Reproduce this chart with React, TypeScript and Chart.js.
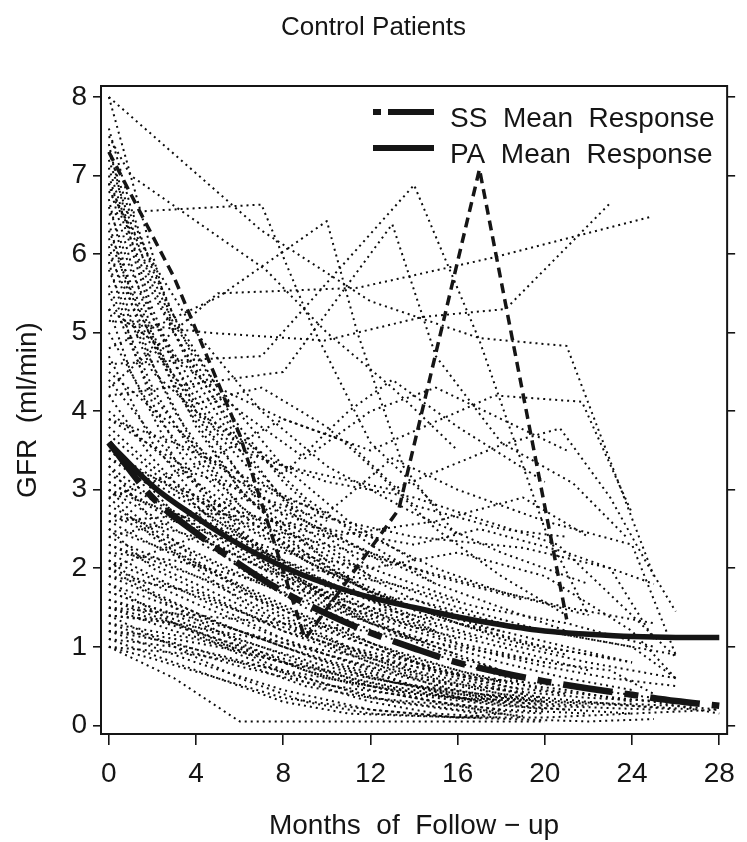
import React, { useEffect, useRef } from "react";
import { Chart, registerables } from "chart.js";

Chart.register(...registerables);

// ---------- text ----------
const titleText = "Control Patients";
const xTitle = "Months  of  Follow \u2212 up";
const yTitle = "GFR  (ml/min)";
const legendLabels = ["SS  Mean  Response", "PA  Mean  Response"];

// ---------- ticks ----------
const xTicks = [0, 4, 8, 12, 16, 20, 24, 28];
const yTicks = [0, 1, 2, 3, 4, 5, 6, 7, 8];

// ---------- mean curves ----------
const meanMonths = [0, 2, 4, 6, 8, 10, 12, 14, 16, 18, 20, 22, 24, 26, 28];
const ssMean = [3.6, 2.9, 2.45, 2.05, 1.7, 1.42, 1.18, 0.98, 0.8, 0.67, 0.56, 0.47, 0.39, 0.31, 0.25];
const paMean = [3.6, 3.05, 2.65, 2.3, 2.02, 1.8, 1.63, 1.5, 1.38, 1.28, 1.2, 1.16, 1.13, 1.12, 1.12];

// ---------- highlighted (dashed) patient ----------
const highlightMonths = [0, 3, 6, 9, 13.3, 17, 21];
const highlightValues = [7.3, 5.7, 3.7, 1.1, 2.75, 7.08, 1.35];

// ---------- individual patients [month, GFR] ----------
const upperPatients: number[][][] = [
  [[0, 8.0], [7, 6.3], [12, 5.4], [17, 4.93], [21, 4.83], [25, 1.9]],
  [[0, 8.0], [1, 7.0], [3, 5.0], [6, 3.6], [9, 2.5], [12, 1.9]],
  [[0, 6.5], [1.8, 6.55], [7, 6.63], [9.3, 5.1], [12, 3.6], [15, 2.8]],
  [[0, 7.5], [1, 7.0], [7.2, 5.8], [10, 5.0], [13, 4.3], [16, 3.5]],
  [[0, 4.8], [5, 5.45], [10, 6.42], [11.4, 5.0], [13.5, 3.3], [16, 2.4]],
  [[0, 4.6], [7, 4.7], [14, 6.88], [17, 4.9], [20, 2.5], [22, 1.4]],
  [[0, 4.2], [8, 4.5], [13, 6.38], [15, 4.7], [18, 3.6], [21.3, 3.08], [23.8, 2.38]],
  [[0, 5.15], [4.5, 5.0], [9.9, 4.9], [14.4, 5.2], [18.2, 5.3], [23, 6.65]],
  [[0, 4.3], [5, 5.5], [11.4, 5.57], [17.7, 5.96], [24.8, 6.47]],
  [[0, 6.9], [3, 5.1], [5, 4.3], [8, 3.9], [12, 3.5], [17.7, 4.2], [21.7, 4.12], [24, 2.7]],
  [[0, 6.2], [2, 4.9], [4, 4.0], [8, 3.3], [13, 3.0], [18, 3.57], [20.7, 3.78], [23, 2.9], [24.6, 2.1], [26, 1.45]],
  [[0, 5.8], [2, 4.5], [6, 3.5], [10, 3.1], [14, 2.9], [20.6, 2.3], [26, 0.87]],
  [[0, 3.9], [4, 3.2], [9, 2.7], [14, 2.4], [19, 2.26], [23, 2.0], [25, 1.1]],
  [[0, 3.4], [5, 2.8], [10, 2.4], [15, 2.6], [19, 2.9], [22, 2.4]],
  [[0, 7.2], [2, 5.6], [4, 4.4], [6, 3.5], [9, 2.6], [12, 2.0], [16, 1.6]],
  [[0, 6.7], [1, 5.5], [3, 4.3], [6, 3.0], [9, 2.2], [13, 1.5]],
  [[0, 7.0], [2, 5.2], [5, 3.8], [8, 3.2], [11, 4.0], [13, 4.4], [16, 3.8], [20, 3.1]],
  [[0, 6.0], [2, 4.8], [4, 4.1], [7, 4.3], [10, 3.8], [12, 3.3], [15, 2.5], [18, 1.9], [21, 1.4]],
  [[0, 5.5], [2, 4.2], [4, 3.5], [7, 2.9], [11, 2.3], [15, 1.9], [19, 1.6]],
  [[0, 7.4], [1, 6.2], [2, 5.3], [4, 4.0], [7, 2.8], [10, 2.1]],
  [[0, 6.8], [2, 5.9], [4, 5.0], [7, 4.0], [10, 3.3], [14, 2.7], [18, 2.2], [22, 1.8]],
  [[0, 5.3], [3, 4.7], [6, 4.0], [9, 3.4], [12, 4.0], [15, 4.3], [18, 3.9], [21, 3.5]],
  [[0, 4.5], [3, 3.8], [6, 3.1], [10, 2.7], [13, 3.4], [16, 3.0], [20, 2.6], [24, 2.3], [26, 0.9]],
  [[0, 6.3], [3, 4.3], [6, 3.2], [9, 2.4], [12, 1.9], [16, 1.5], [20, 1.2], [24, 1.0], [26, 0.6]],
  [[0, 2.9], [4, 3.3], [8, 3.9], [11, 3.6], [14, 2.8], [18, 2.5], [21, 2.4]],
];

const lowerPatients: number[][][] = [
  [[0, 1.0], [3, 0.6], [6, 0.05], [10, 0.05], [14, 0.05], [20, 0.05]],
  [[0, 1.1], [2, 0.9], [5, 0.6], [8, 0.35], [12, 0.2], [16, 0.1], [18, 0.15]],
  [[0, 1.2], [3, 1.05], [6, 0.8], [9, 0.5], [12, 0.35], [16, 0.25], [19, 0.1]],
  [[0, 1.3], [4, 1.1], [8, 0.8], [12, 0.55], [16, 0.35], [20, 0.22], [24, 0.15]],
  [[0, 1.4], [2, 1.35], [5, 1.1], [8, 0.85], [11, 0.6], [14, 0.42], [17, 0.3]],
  [[0, 1.5], [3, 1.3], [6, 1.0], [9, 0.7], [12, 0.5], [15, 0.35], [18, 0.25], [21, 0.2]],
  [[0, 1.6], [2, 1.45], [4, 1.25], [7, 1.0], [10, 0.75], [13, 0.55], [17, 0.4], [21, 0.3], [26, 0.25], [28, 0.2]],
  [[0, 1.7], [3, 1.4], [6, 1.1], [9, 0.8], [12, 0.5], [15, 0.3], [18, 0.2]],
  [[0, 1.8], [2, 1.6], [5, 1.3], [8, 1.0], [11, 0.75], [14, 0.5], [17, 0.35], [20, 0.25], [25, 0.2]],
  [[0, 1.9], [3, 1.55], [6, 1.2], [9, 0.9], [12, 0.6], [16, 0.4], [20, 0.3]],
  [[0, 2.0], [2, 1.8], [4, 1.55], [7, 1.2], [10, 0.9], [13, 0.65], [16, 0.45], [19, 0.3]],
  [[0, 2.1], [3, 1.75], [6, 1.45], [9, 1.15], [12, 0.85], [15, 0.6], [18, 0.4], [22, 0.3], [26, 0.2]],
  [[0, 2.2], [2, 1.9], [5, 1.5], [8, 1.1], [11, 0.8], [14, 0.5], [17, 0.3]],
  [[0, 2.3], [3, 2.0], [6, 1.7], [9, 1.35], [12, 1.0], [15, 0.7], [18, 0.5], [21, 0.4]],
  [[0, 2.4], [2, 2.15], [4, 1.9], [7, 1.5], [10, 1.1], [13, 0.75], [16, 0.5]],
  [[0, 2.5], [3, 2.2], [6, 1.8], [9, 1.4], [12, 1.05], [16, 0.7], [20, 0.45], [25, 0.3], [28, 0.15]],
  [[0, 2.6], [2, 2.3], [5, 1.9], [8, 1.5], [11, 1.15], [14, 0.85], [18, 0.55]],
  [[0, 2.7], [3, 2.3], [6, 1.9], [9, 1.6], [12, 1.3], [15, 1.05], [18, 0.8], [21, 0.6], [24, 0.45]],
  [[0, 2.8], [2, 2.5], [4, 2.2], [7, 1.8], [10, 1.45], [13, 1.1], [16, 0.8], [19, 0.55]],
  [[0, 3.0], [3, 2.5], [6, 2.05], [9, 1.65], [12, 1.3], [15, 1.0], [18, 0.7]],
  [[0, 3.1], [2, 2.8], [5, 2.3], [8, 1.85], [11, 1.5], [14, 1.2], [17, 0.95], [20, 0.75], [23, 0.6], [26, 0.5]],
  [[0, 3.2], [3, 2.7], [6, 2.2], [9, 1.8], [12, 1.45], [16, 1.1]],
  [[0, 3.3], [2, 2.9], [4, 2.55], [7, 2.1], [10, 1.7], [13, 1.35], [16, 1.05], [20, 0.8]],
  [[0, 3.4], [3, 2.85], [6, 2.35], [9, 1.95], [12, 1.6], [15, 1.3], [18, 1.05], [22, 0.8], [26, 0.6]],
  [[0, 3.5], [2, 3.1], [5, 2.6], [8, 2.1], [11, 1.7], [14, 1.35], [17, 1.1]],
  [[0, 3.7], [3, 3.0], [6, 2.4], [9, 1.9], [12, 1.5], [15, 1.2]],
  [[0, 3.8], [2, 3.3], [4, 2.9], [7, 2.4], [10, 1.95], [13, 1.6], [16, 1.3], [19, 1.05], [23, 0.85]],
  [[0, 4.0], [3, 3.3], [6, 2.6], [9, 2.1], [12, 1.7], [15, 1.4], [18, 1.1], [21, 0.9]],
  [[0, 4.4], [2, 3.7], [4, 3.1], [7, 2.5], [10, 2.0], [14, 1.5], [18, 1.2]],
  [[0, 5.0], [2, 4.0], [4, 3.3], [6, 2.7], [9, 2.1], [12, 1.7], [16, 1.3], [20, 1.0], [24, 0.8]],
  [[0, 5.6], [2, 4.3], [4, 3.4], [6, 2.8], [9, 2.2], [12, 1.7], [15, 1.35]],
  [[0, 6.1], [1, 5.2], [3, 4.0], [5, 3.2], [8, 2.5], [11, 2.0], [14, 1.6], [17, 1.3]],
  [[0, 6.6], [1, 5.8], [3, 4.6], [5, 3.7], [7, 3.1], [10, 2.5], [13, 2.0]],
  [[0, 7.1], [1, 6.2], [2, 5.5], [4, 4.5], [6, 3.7], [9, 2.9], [12, 2.3], [15, 1.8]],
  [[0, 7.3], [1, 6.5], [3, 5.2], [5, 4.3], [8, 3.3], [11, 2.6], [14, 2.1]],
  [[0, 2.0], [2, 2.2], [4, 2.4], [7, 2.0], [10, 1.7], [14, 1.6], [18, 1.3], [22, 1.1], [26, 0.9]],
  [[0, 2.6], [5, 2.7], [10, 2.5], [14, 2.3], [17, 2.5], [21, 2.2], [25, 1.8]],
  [[0, 3.0], [4, 2.6], [8, 2.2], [12, 2.0], [16, 2.2], [20, 1.9], [24, 1.2], [26, 0.6]],
  [[0, 1.5], [4, 1.4], [8, 1.3], [12, 1.2], [16, 1.0], [20, 0.8], [23, 0.7], [25, 0.4]],
  [[0, 1.2], [4, 0.8], [8, 0.45], [12, 0.2], [16, 0.1], [20, 0.1], [24, 0.15], [28, 0.2]],
  [[0, 1.0], [2, 0.85], [5, 0.6], [8, 0.3], [11, 0.15], [14, 0.12], [17, 0.1]],
  [[0, 1.4], [3, 1.0], [6, 0.6], [9, 0.3], [12, 0.15], [16, 0.1], [22, 0.05], [25, 0.08]],
  [[0, 2.0], [3, 1.5], [6, 1.05], [9, 0.7], [12, 0.45], [15, 0.3], [18, 0.2], [22, 0.15]],
  [[0, 3.0], [3, 2.2], [6, 1.6], [9, 1.15], [12, 0.8], [15, 0.5], [18, 0.3]],
  [[0, 3.6], [3, 2.7], [6, 2.0], [9, 1.5], [12, 1.05], [15, 0.7], [19, 0.45]],
  [[0, 1.1], [3, 1.0], [6, 0.75], [9, 0.55], [13, 0.4], [17, 0.2], [20, 0.15]],
  [[0, 1.3], [2, 1.1], [5, 0.9], [9, 0.6], [13, 0.3], [17, 0.15]],
  [[0, 1.5], [3, 1.2], [7, 0.9], [10, 0.6], [14, 0.4], [18, 0.3], [22, 0.25]],
  [[0, 1.7], [2, 1.5], [6, 1.2], [10, 0.9], [14, 0.6], [18, 0.45], [22, 0.35], [26, 0.3]],
  [[0, 1.9], [4, 1.7], [8, 1.2], [12, 0.8], [15, 0.55], [19, 0.35]],
  [[0, 2.1], [2, 1.7], [5, 1.3], [9, 0.9], [13, 0.55], [17, 0.3], [20, 0.2]],
  [[0, 2.3], [4, 1.8], [7, 1.4], [11, 1.0], [14, 0.8], [17, 0.6], [21, 0.5], [25, 0.35]],
  [[0, 2.5], [2, 2.0], [5, 1.6], [8, 1.2], [12, 0.9], [16, 0.6], [19, 0.4]],
  [[0, 2.7], [4, 2.4], [8, 1.9], [11, 1.5], [14, 1.25], [18, 1.0], [22, 0.7]],
  [[0, 2.9], [2, 2.4], [5, 1.9], [8, 1.4], [11, 1.0], [14, 0.7], [17, 0.5], [20, 0.35]],
  [[0, 3.1], [3, 2.6], [6, 2.3], [9, 2.0], [13, 1.8], [17, 1.5], [21, 1.3], [25, 1.0]],
  [[0, 3.3], [2, 2.6], [4, 2.1], [7, 1.6], [10, 1.2], [13, 0.9], [16, 0.65]],
  [[0, 3.5], [3, 3.0], [6, 2.6], [10, 2.3], [14, 2.0], [18, 1.7], [22, 1.4]],
  [[0, 2.2], [3, 2.1], [6, 1.9], [9, 1.7], [12, 1.5], [15, 1.35], [18, 1.2], [21, 1.0], [24, 0.8]],
  [[0, 1.8], [3, 1.3], [6, 0.9], [9, 0.55], [12, 0.3], [15, 0.15], [18, 0.1]],
  [[0, 1.6], [4, 1.2], [8, 0.7], [12, 0.35], [16, 0.2], [19, 0.12]],
  [[0, 4.2], [2, 3.4], [4, 2.8], [6, 2.3], [9, 1.7], [12, 1.3], [15, 0.95], [18, 0.7]],
  [[0, 4.7], [2, 3.6], [4, 2.9], [7, 2.2], [10, 1.6], [13, 1.2], [16, 0.9]],
  [[0, 5.3], [1, 4.5], [3, 3.4], [5, 2.7], [8, 2.0], [11, 1.5], [14, 1.1]],
  [[0, 5.9], [1, 4.9], [2, 4.1], [4, 3.1], [6, 2.5], [9, 1.8], [12, 1.3]],
  [[0, 6.4], [1, 5.4], [2, 4.6], [4, 3.5], [6, 2.8], [9, 2.1], [12, 1.6], [15, 1.2]],
  [[0, 6.9], [1, 5.9], [2, 5.0], [4, 3.8], [6, 3.0], [8, 2.5], [11, 1.9]],
  [[0, 7.6], [1, 6.6], [2, 5.8], [4, 4.6], [6, 3.8], [8, 3.1], [10, 2.6]],
  [[0, 3.9], [3, 3.6], [6, 3.2], [9, 2.8], [12, 2.4], [15, 2.0], [18, 1.7], [21, 1.5], [25, 1.3]],
  [[0, 2.4], [3, 2.6], [6, 2.9], [9, 2.6], [12, 2.2], [15, 1.8], [18, 1.5], [21, 1.2]],
  [[0, 1.0], [4, 0.9], [8, 0.7], [12, 0.5], [16, 0.35], [20, 0.3], [24, 0.25], [27, 0.2]],
  [[0, 1.2], [2, 1.15], [5, 1.0], [8, 0.8], [11, 0.65], [14, 0.5], [17, 0.4], [20, 0.3]],
  [[0, 1.4], [3, 1.3], [6, 1.15], [9, 1.0], [12, 0.85], [15, 0.7], [18, 0.55], [21, 0.45], [24, 0.3]],
];

const INK = "#151515";
const FONT = "'Liberation Sans', Arial, Helvetica, sans-serif";

export default function App() {
  const canvasRef = useRef<HTMLCanvasElement | null>(null);

  useEffect(() => {
    const canvas = canvasRef.current;
    if (!canvas) return;

    const toXY = (traj: number[][]) => traj.map(([x, y]) => ({ x, y }));

    const patientSets = [...upperPatients, ...lowerPatients].map((traj) => ({
      label: "patient",
      data: toXY(traj),
      borderColor: "#0d0d0d",
      borderWidth: 2,
      borderDash: [2, 4],
      borderCapStyle: "butt" as const,
      pointRadius: 0,
      fill: false,
      tension: 0,
      order: 10,
    }));

    const framePlugin = {
      id: "frameAndText",
      afterDraw(chart: any) {
        const { ctx, chartArea } = chart;
        const { left, right, top, bottom } = chartArea;
        ctx.save();
        ctx.strokeStyle = INK;
        ctx.lineWidth = 2;
        ctx.setLineDash([]);
        ctx.strokeRect(left, top, right - left, bottom - top);

        ctx.fillStyle = INK;
        ctx.font = `26px ${FONT}`;
        ctx.textAlign = "center";
        ctx.textBaseline = "middle";
        ctx.fillText(titleText, chart.width / 2, 28);

        ctx.font = `28px ${FONT}`;
        ctx.fillText(xTitle, (left + right) / 2, 826);

        ctx.save();
        ctx.translate(28, (top + bottom) / 2);
        ctx.rotate(-Math.PI / 2);
        ctx.font = `28px ${FONT}`;
        ctx.fillText(yTitle, 0, 0);
        ctx.restore();

        const lx0 = 373;
        const lx1 = 434;
        ctx.strokeStyle = INK;
        ctx.lineCap = "butt";
        ctx.lineWidth = 6;
        ctx.beginPath();
        ctx.moveTo(lx0, 112);
        ctx.lineTo(lx0 + 8, 112);
        ctx.moveTo(lx0 + 15, 112);
        ctx.lineTo(lx1, 112);
        ctx.stroke();
        ctx.beginPath();
        ctx.moveTo(lx0, 148);
        ctx.lineTo(lx1, 148);
        ctx.stroke();

        ctx.font = `28px ${FONT}`;
        ctx.textAlign = "left";
        ctx.textBaseline = "alphabetic";
        ctx.fillText(legendLabels[0], 450, 127);
        ctx.fillText(legendLabels[1], 450, 163);
        ctx.restore();
      },
    };

    const tickFont = { family: FONT, size: 28 };

    const chart = new Chart(canvas, {
      type: "line",
      data: {
        datasets: [
          {
            label: "PA Mean Response",
            data: meanMonths.map((m, i) => ({ x: m, y: paMean[i] })),
            borderColor: INK,
            borderWidth: 5.5,
            pointRadius: 0,
            fill: false,
            cubicInterpolationMode: "monotone",
            order: 0,
          },
          {
            label: "SS Mean Response",
            data: meanMonths.map((m, i) => ({ x: m, y: ssMean[i] })),
            borderColor: INK,
            borderWidth: 6.5,
            borderDash: [50, 12, 14, 12],
            borderCapStyle: "butt",
            pointRadius: 0,
            fill: false,
            cubicInterpolationMode: "monotone",
            order: 1,
          },
          {
            label: "highlight",
            data: highlightMonths.map((m, i) => ({ x: m, y: highlightValues[i] })),
            borderColor: INK,
            borderWidth: 3.5,
            borderDash: [10, 6],
            borderCapStyle: "butt",
            pointRadius: 0,
            fill: false,
            tension: 0,
            order: 2,
          },
          ...patientSets,
        ] as any,
      },
      options: {
        responsive: false,
        animation: false,
        devicePixelRatio: 1,
        layout: { padding: { left: 0, right: 0, top: 86, bottom: 0 } },
        plugins: {
          legend: { display: false },
          tooltip: { enabled: false },
          title: { display: false },
        },
        elements: { line: { borderJoinStyle: "round" } },
        scales: {
          x: {
            type: "linear",
            min: -0.36,
            max: 28.36,
            afterBuildTicks: (axis: any) => {
              axis.ticks = xTicks.map((v) => ({ value: v }));
            },
            afterFit: (scale: any) => {
              scale.height = 108;
            },
            border: { display: false },
            grid: {
              display: true,
              drawOnChartArea: false,
              drawTicks: true,
              tickLength: 11,
              color: INK,
              lineWidth: 1.6,
            },
            ticks: {
              font: tickFont,
              color: INK,
              padding: 12,
              autoSkip: false,
              maxRotation: 0,
              callback: (v: any) => String(v),
            },
          },
          y: {
            type: "linear",
            position: "left",
            min: -0.11,
            max: 8.14,
            afterBuildTicks: (axis: any) => {
              axis.ticks = yTicks.map((v) => ({ value: v }));
            },
            afterFit: (scale: any) => {
              scale.width = 101;
            },
            border: { display: false },
            grid: {
              display: true,
              drawOnChartArea: false,
              drawTicks: true,
              tickLength: 8,
              color: INK,
              lineWidth: 1.6,
            },
            ticks: {
              font: tickFont,
              color: INK,
              padding: 6,
              autoSkip: false,
              callback: (v: any) => String(v),
            },
          },
          y2: {
            type: "linear",
            position: "right",
            min: -0.11,
            max: 8.14,
            afterBuildTicks: (axis: any) => {
              axis.ticks = yTicks.map((v) => ({ value: v }));
            },
            afterFit: (scale: any) => {
              scale.width = 12;
            },
            border: { display: false },
            grid: {
              display: true,
              drawOnChartArea: false,
              drawTicks: true,
              tickLength: 8,
              color: INK,
              lineWidth: 1.6,
            },
            ticks: { display: false },
          },
        },
      } as any,
      plugins: [framePlugin],
    });

    return () => {
      chart.destroy();
    };
  }, []);

  return (
    <div style={{ position: "absolute", left: 0, top: 0, width: 747, height: 842, background: "#fff" }}>
      <canvas ref={canvasRef} width={747} height={842} style={{ display: "block" }} />
    </div>
  );
}
